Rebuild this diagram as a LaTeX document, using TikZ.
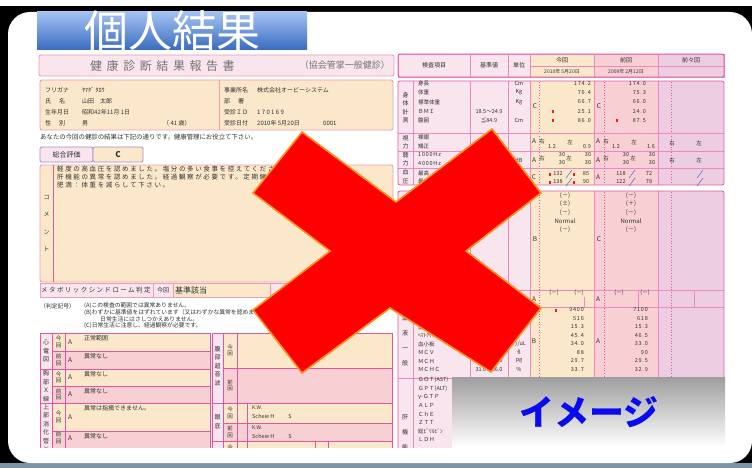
\documentclass[tikz,border=0pt]{standalone}
\usepackage{fontspec}
\setmainfont{Noto Sans CJK JP}
\usetikzlibrary{positioning,calc}

\definecolor{ink}{HTML}{303030}
\definecolor{beige}{HTML}{FBE8CB}
\definecolor{rosa}{HTML}{F8D0D3}
\definecolor{lila}{HTML}{ECCDE2}
\definecolor{hdr}{HTML}{F9E5EE}
\definecolor{lnpink}{HTML}{E455A0}
\definecolor{lnsoft}{HTML}{F09CB0}
\definecolor{lnthin}{HTML}{EE88BE}
\definecolor{lnlila}{HTML}{A98CCB}
\definecolor{slashblue}{HTML}{6A78B8}
\definecolor{xred}{HTML}{FF0000}
\definecolor{xorange}{HTML}{F7921E}
\definecolor{bnrtop}{HTML}{A3C2F2}
\definecolor{bnrbot}{HTML}{3A6BC0}
\definecolor{rim}{HTML}{7F93A6}
\definecolor{imgblue}{HTML}{0A0AF0}

\tikzset{
  sm/.style={font=\fontsize{5.5}{6.5}\selectfont, text=ink, inner sep=0pt},
  sml/.style={sm, anchor=west},
  smr/.style={sm, anchor=east},
  spc/.style={font=\fontsize{5.5}{6.5}\selectfont\addfontfeatures{LetterSpace=14}},
  vcat/.style={sm, align=center, font=\fontsize{6}{8.5}\selectfont},
  vlab/.style={sm, align=center, font=\fontsize{5.5}{6.5}\selectfont},
  judge/.style={sm, font=\fontsize{6.5}{7}\selectfont},
  frm/.style={draw=lnsoft, line width=0.9pt},
  tab/.style={draw=lnpink, line width=0.8pt},
  cellln/.style={draw=lnthin, line width=0.5pt},
  dots/.style={draw=lnpink, dotted, line width=0.7pt},
  redmk/.style={fill=red!90!white, minimum width=2.2pt, minimum height=3pt, inner sep=0pt},
  slash/.style={draw=slashblue, line width=0.6pt},
}

\begin{document}
\begin{tikzpicture}[x=1pt, y=-1pt]
\useasboundingbox (0,0) rectangle (752,468);

% frame
\fill[white] (0,0) rectangle (752,468);
\fill[black] (0,6) rectangle (752,463);
\fill[rim] (0,463) rectangle (752,468);
\fill[white, rounded corners=22] (8,12) rectangle (752,463);

\begin{scope}
\clip (0,0) rectangle (752,447);

% report header
\draw[frm, fill=hdr, rounded corners=2] (39,55) rectangle (394,76);
\node[font=\fontsize{12}{12}\selectfont\addfontfeatures{LetterSpace=38}, text=black!55, inner sep=0pt, anchor=west] (rpt) at (90,65.5) {健康診断結果報告書};
\node[font=\fontsize{9}{9}\selectfont, text=black!55, inner sep=0pt, anchor=east] (kind) at (390,65.5) {（協会管掌一般健診）};

% personal data
\draw[frm, fill=beige, rounded corners=2] (40,80) rectangle (393,130);
\draw[frm] (219,80) -- (219,130);
\foreach \k/\v [count=\i] in {フリガナ/ﾔﾏﾀﾞ\ ﾀﾛｳ, 氏\hspace{8pt}名/山田\hspace{6pt}太郎, 生年月日/昭和42年11月\ 1日, 性\hspace{8pt}別/男}
  {\node[sml, font=\fontsize{6}{7}\selectfont] (pk\i) at (45,79+11*\i) {\k};
   \node[sml, font=\fontsize{6}{7}\selectfont] (pv\i) at (82,79+11*\i) {\v};}
\node[sml, font=\fontsize{6}{7}\selectfont] (age) at (163,123) {（ 41 歳）};
\foreach \k/\v [count=\i] in {事業所名/株式会社オービーシステム, 部\hspace{8pt}署/, 受診ＩＤ/1 7 0 1 6 9, 受診日付/2010年\ 5月20日}
  {\node[sml, font=\fontsize{6}{7}\selectfont] (ck\i) at (224,79+11*\i) {\k};
   \node[sml, font=\fontsize{6}{7}\selectfont] (cv\i) at (257,79+11*\i) {\v};}
\node[sml, font=\fontsize{6}{7}\selectfont] (seq) at (323,123) {0001};
\node[sml, font=\fontsize{6.4}{7}\selectfont] (intro) at (40,137) {あなたの今回の健診の結果は下記の通りです。健康管理にお役立て下さい。};

% overall grade
\draw[draw=lnlila, fill=hdr, line width=0.8pt, rounded corners=1.5] (40,147) rectangle (93,162);
\draw[draw=lnlila, fill=beige, line width=0.8pt, rounded corners=1.5] (93,147) rectangle (143,162);
\node[sm, font=\fontsize{7}{8}\selectfont] (sogo) at (66.5,154.5) {総合評価};
\node[sm, font=\fontsize{8}{8}\selectfont\bfseries] (grade) at (118,154.5) {C};

% comment
\draw[frm, fill=beige, rounded corners=2] (40,165) rectangle (393,282);
\draw[lnpink, line width=1pt] (53,165) -- (53,282);
\node[sm, align=center, font=\fontsize{6}{17.6}\selectfont] (cmt) at (46.5,223.5) {コ\\メ\\ン\\ト};
\foreach \t [count=\i] in {軽度の高血圧を認めました。塩分の多い食事を控えてください。, 肝機能の異常を認めました。経過観察が必要です。定期健診を受けてください。, 肥満：体重を減らして下さい。}
  \node[sml, font=\fontsize{6.5}{7}\selectfont\addfontfeatures{LetterSpace=25}] (cl\i) at (57,160.5+8.3*\i) {\t};

% metabolic syndrome
\draw[frm, fill=hdr] (40,283) rectangle (153,297);
\draw[frm, fill=hdr] (153,283) rectangle (173,297);
\draw[frm, fill=beige] (173,283) rectangle (270,297);
\draw[frm, fill=hdr] (270,283) rectangle (393,297);
\node[sml, font=\fontsize{6.5}{7}\selectfont\addfontfeatures{LetterSpace=22}] (meta) at (41,290) {メタボリックシンドローム判定};
\node[sm, font=\fontsize{6}{7}\selectfont] (mnow) at (163,290) {今回};
\node[sml, font=\fontsize{8}{8}\selectfont] (mres) at (175,290) {基準該当};

% legend
\node[sml, font=\fontsize{5.8}{6}\selectfont] (lg0) at (40,306) {（判定記号）};
\node[sml, font=\fontsize{5.8}{6}\selectfont] (lgA) at (84,306) {(A)この検査の範囲では異常ありません。};
\node[sml, font=\fontsize{5.8}{6}\selectfont] (lgB) at (84,312.5) {(B)わずかに基準値をはずれています（又はわずかな異常を認めます）が、};
\node[sml, font=\fontsize{5.8}{6}\selectfont] (lgB2) at (100,319) {日常生活にはさしつかえありません。};
\node[sml, font=\fontsize{5.8}{6}\selectfont] (lgC) at (84,325.5) {(C)日常生活に注意し、経過観察が必要です。};

% lower tables, left block
\foreach \ya/\yb/\f/\lb/\ay/\t [count=\i] in {333/351/beige/今/342/正常範囲, 351/369/rosa/前/360/異常なし, 369/386/beige/今/377.5/異常なし, 386/403/rosa/前/394.5/異常なし, 403/431/beige/今/417/異常は指摘できません。, 431/460/rosa/前/438/異常なし}
  {\draw[tab, fill=\f] (52,\ya) rectangle (210,\yb);
   \draw[tab] (65,\ya) -- (65,\yb);
   \node[vlab] (lq\i) at (58.5,\ay) {\lb\\回};
   \node[judge] (lj\i) at (70,\ay) {A};
   \node[sml, font=\fontsize{6}{7}\selectfont] (lt\i) at (84,\ya+5.5) {\t};}
\draw[tab, fill=hdr] (40,333) rectangle (52,369);
\draw[tab, fill=hdr] (40,369) rectangle (52,403);
\draw[tab, fill=hdr] (40,403) rectangle (52,460);
\node[vcat] (ecg) at (46,351) {心\\電\\図};
\node[vcat] (chest) at (46,386) {胸\\部\\Ｘ\\線};
\node[vcat, anchor=north] (ugi) at (46,404) {上\\部\\消\\化\\管\\Ｘ\\線};

% lower tables, right block
\foreach \ya/\yb/\f/\lb [count=\i] in {333/368/beige/今, 368/403/rosa/前, 403/423/beige/今, 423/441/rosa/前, 441/460/beige/今}
  {\draw[tab, fill=\f] (223,\ya) rectangle (392,\yb);
   \draw[tab] (237,\ya) -- (237,\yb);
   \node[vlab] (rq\i) at (230,{(\ya+\yb)/2}) {\lb\\回};}
\draw[tab] (247,403) -- (247,460);
\draw[tab] (315,441) -- (315,460);
\draw[tab] (328,441) -- (328,460);
\draw[tab, fill=hdr] (212,333) rectangle (223,403);
\draw[tab, fill=hdr] (212,403) rectangle (223,441);
\draw[tab, fill=hdr] (212,441) rectangle (223,460);
\node[vcat] (echo) at (217.5,366) {腹\\部\\超\\音\\波};
\node[vcat] (fundus) at (217.5,422) {眼\\底};
\foreach \ya [count=\i] in {403,423}
  {\node[sml, font=\fontsize{5}{6}\selectfont] (kw\i) at (252,\ya+5) {K.W.};
   \node[sml, font=\fontsize{5.5}{6}\selectfont] (sch\i) at (252,\ya+13) {Scheie H\hspace{14pt}S};}

% result table, header
\foreach \xa/\xb/\f in {398/470/hdr, 470/508/hdr, 508/530/hdr, 530/594/beige, 594/658/rosa, 658/724/lila}
  \draw[cellln, fill=\f] (\xa,54) rectangle (\xb,77);
\draw[cellln] (530,66) -- (724,66);
\draw[tab, rounded corners=2] (398,54) rectangle (724,77);
\node[sm, font=\fontsize{6}{7}\selectfont] (h1) at (434,65.5) {検査項目};
\node[sm, font=\fontsize{6}{7}\selectfont] (h2) at (489,65.5) {基準値};
\node[sm, font=\fontsize{6}{7}\selectfont] (h3) at (519,65.5) {単位};
\node[sm, font=\fontsize{6}{7}\selectfont] (h4) at (562,60) {今回};
\node[sm, font=\fontsize{6}{7}\selectfont] (h5) at (626,60) {前回};
\node[sm, font=\fontsize{6}{7}\selectfont] (h6) at (691,60) {前々回};
\node[sm, font=\fontsize{5}{6}\selectfont] (d4) at (562,71.5) {2010年\ 5月20日};
\node[sm, font=\fontsize{5}{6}\selectfont] (d5) at (626,71.5) {2009年\ 2月12日};

% result table, body boxes
\foreach \ya/\yb in {81/185, 191/470}
  {\foreach \xa/\xb/\f in {398/530/hdr, 530/594/beige, 594/658/rosa, 658/724/lila}
     \fill[\f] (\xa,\ya) rectangle (\xb,\yb);
   \foreach \x in {413,470,508,530,594,658}
     \draw[cellln] (\x,\ya) -- (\x,\yb);
   \foreach \x in {539,604,671}
     \draw[dots] (\x,\ya+1) -- (\x,\yb-1);}
\foreach \y in {133,151,168,290,307,378}
  \draw[cellln] (398,\y) -- (724,\y);
\draw[cellln] (584,297) -- (584,307);
\draw[cellln] (638,290) -- (638,307);
\draw[cellln] (694,290) -- (694,307);
\draw[tab, rounded corners=2] (398,81) rectangle (724,185);
\draw[tab, rounded corners=2] (398,191) rectangle (724,470);

% body measurements
\node[vcat] (c1) at (405.5,107.5) {身\\体\\計\\測};
\foreach \t/\u [count=\i] in {身長/Cm, 体重/Kg, 標準体重/Kg, ＢＭＩ/, 腹囲/Cm}
  {\node[sml] (bi\i) at (418,74+9.3*\i) {\t};
   \node[sm] (bu\i) at (519,74+9.3*\i) {\u};}
\foreach \a/\b [count=\i] in {174.2/174.0, 76.4/75.3, 66.7/66.0, 25.1/24.0, 86.0/87.5}
  {\node[smr, spc] (bn\i) at (591,74+9.3*\i) {\a};
   \node[smr, spc] (bp\i) at (646,74+9.3*\i) {\b};}
\node[sm] (bs4) at (489,111.2) {18.5～24.9};
\node[sm] (bs5) at (489,120.5) {≦84.9};
\node[redmk] (rm1) at (553,111.2) {};
\node[redmk] (rm2) at (553,120.5) {};
\node[redmk] (rm3) at (617,120.5) {};
\node[judge] (bj1) at (535,106) {C};
\node[judge] (bj2) at (599,106) {C};

% eyesight
\node[vcat] (c2) at (405.5,142) {視\\力};
\node[sml] (vi1) at (418,137.5) {裸眼};
\node[sml] (vi2) at (418,146.5) {矯正};
\foreach \c/\ra/\rb [count=\i] in {0/1.2/0.9, 64/1.2/1.6}
  {\node[judge] (vj\i) at (534+\c,141) {A};
   \node[sm] (vr\i) at (542+\c,141) {右};
   \node[sm] (vra\i) at (552+\c,147) {\ra};
   \node[sm] (vl\i) at (570+\c,142) {左};
   \node[sm] (vrb\i) at (587+\c,147) {\rb};}
\node[sm] (vr3) at (672,143) {右};
\node[sm] (vl3) at (699,143) {左};

% hearing
\node[vcat] (c3) at (405.5,159.5) {聴\\力};
\node[sml, spc] (hi1) at (418,155) {1000Hz};
\node[sml, spc] (hi2) at (418,163.5) {4000Hz};
\node[sm] (hu) at (519,160) {dB};
\foreach \c [count=\i] in {0,64}
  {\node[judge] (hj\i) at (534+\c,160) {A};
   \node[sm] (hr\i) at (542+\c,158) {右};
   \node[sm] (ha\i) at (562+\c,154.5) {30};
   \node[sm] (hb\i) at (562+\c,163) {30};
   \node[sm] (hl\i) at (569+\c,158) {左};
   \node[sm] (hc\i) at (588+\c,154.5) {30};
   \node[sm] (hd\i) at (588+\c,163) {30};}
\node[sm] (hr3) at (672,160) {右};
\node[sm] (hl3) at (699,160) {左};

% blood pressure
\node[vcat] (c4) at (405.5,176.5) {血\\圧};
\node[sml] (pi1) at (418,173) {最高};
\node[sml] (pi2) at (418,181.5) {最低};
\node[judge] (pj1) at (534,177) {C};
\node[judge] (pj2) at (598,177) {A};
\foreach \y/\s/\d/\ps/\pd [count=\i] in {174/132/85/118/72, 182/138/90/122/78}
  {\node[redmk] (pm\i) at (550,\y) {};
   \node[sm] (ps\i) at (558,\y) {\s};
   \node[redmk] (pn\i) at (574,\y) {};
   \node[sm] (pd\i) at (586,\y) {\d};
   \node[sm] (qs\i) at (621,\y) {\ps};
   \node[sm] (qd\i) at (649,\y) {\pd};
   \draw[slash] (566,\y+4) -- (572,\y-4);
   \draw[slash] (629,\y+4) -- (635,\y-4);
   \draw[slash] (697,\y+4) -- (703,\y-4);}

% urine
\foreach \a/\b [count=\i] in {(－)/(－), (±)/(＋), (－)/(－), Normal/Normal, (－)/(－)}
  {\node[sm, font=\fontsize{6}{7}\selectfont] (ua\i) at (565,186.5+8.7*\i) {\a};
   \node[sm, font=\fontsize{6}{7}\selectfont] (ub\i) at (631,186.5+8.7*\i) {\b};}
\node[judge] (uj1) at (535,239) {B};
\node[judge] (uj2) at (599,239) {C};
\node[judge] (oj1) at (534,299) {A};
\node[judge] (oj2) at (598,299) {A};
\node[sm] (oa1) at (554,293) {(－)};
\node[sm] (oa2) at (579,293) {(－)};
\node[sm] (ob1) at (619,293) {(－)};
\node[sm] (ob2) at (645,293) {(－)};

% blood count
\node[vcat, font=\fontsize{6}{15}\selectfont] (c5) at (405,340.5) {血\\液\\一\\般};
\foreach \t/\a/\b [count=\i] in {白血球数/9400/7100, 赤血球数/516/618, 血色素量/15.3/15.3, ﾍﾏﾄｸﾘｯﾄ/45.4/46.5, 血小板/34.0/33.0, ＭＣＶ/88/90, ＭＣＨ/29.7/29.5, ＭＣＨＣ/33.7/32.9}
  {\node[sml] (gi\i) at (418,301.5+8.5*\i) {\t};
   \node[smr, spc] (ga\i) at (584,301.5+8.5*\i) {\a};
   \node[smr, spc] (gb\i) at (648,301.5+8.5*\i) {\b};}
\node[sm] (gs7) at (489,361) {26.0～34.0};
\node[sm] (gs8) at (489,369.5) {31.0～36.0};
\node[sm] (gu5) at (519,344) {万/uL};
\node[sm] (gu6) at (519,352.5) {fl};
\node[sm] (gu7) at (519,361) {pg};
\node[sm] (gu8) at (519,369.5) {\%};
\node[redmk] (gm1) at (556,310) {};
\node[judge] (gj1) at (534,341) {B};
\node[judge] (gj2) at (598,341) {A};

% liver
\node[vcat, font=\fontsize{6}{15}\selectfont, anchor=north] (c6) at (405,414) {肝\\機\\能};
\foreach \t [count=\i] in {ＧＯＴ(AST), ＧＰＴ(ALT), γ-ＧＴＰ, ＡＬＰ, ＣｈＥ, ＺＴＴ, 総ﾋﾞﾘﾙﾋﾞﾝ, ＬＤＨ}
  \node[sml] (li\i) at (418,371.5+8.5*\i) {\t};
\end{scope}

% banner
\shade[top color=bnrtop, bottom color=bnrbot] (37,12) rectangle (307,50);
\node[font=\fontsize{44}{44}\selectfont, text=white, inner sep=0pt] (banner) at (172,31) {個人結果};

% cross
\draw[draw=xorange, fill=xred, line width=1.6pt, line join=miter]
  (302,132) -- (396,202) -- (492,129) -- (541,193) -- (466,251) -- (541,308)
  -- (491,372) -- (390,308) -- (302,373) -- (253,310) -- (330,251) -- (253,193) -- cycle;

% image note
\shade[top color=black!38, bottom color=white] (452,377) rectangle (725,447);
\node[font=\fontsize{35}{35}\selectfont\bfseries, text=imgblue, inner sep=0pt] (img) at (589,412) {イメージ};
\end{tikzpicture}
\end{document}
